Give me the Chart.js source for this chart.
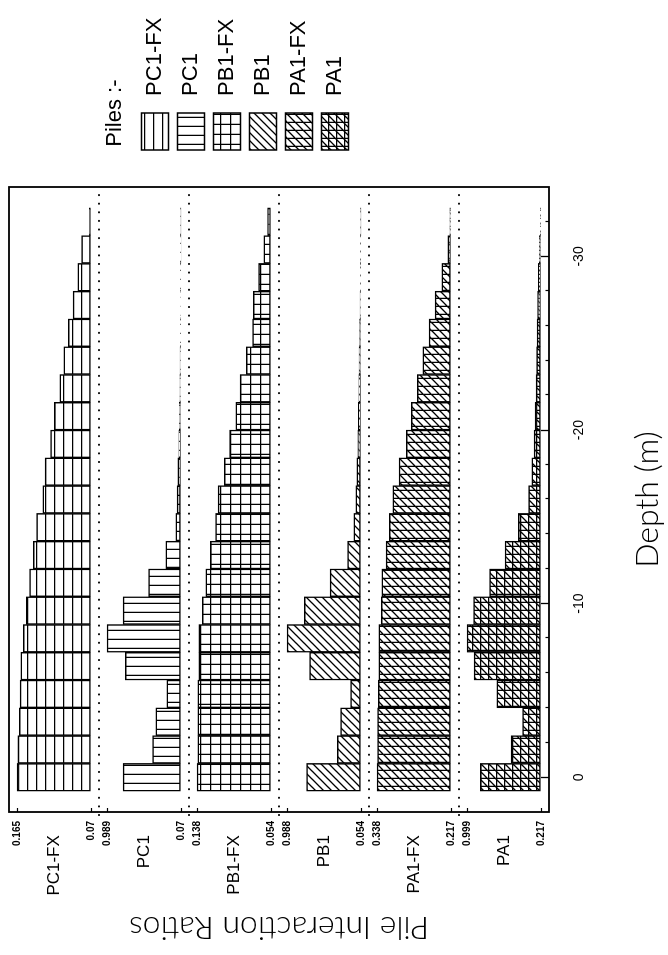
<!DOCTYPE html>
<html>
<head>
<meta charset="utf-8">
<script src="https://cdn.jsdelivr.net/npm/chart.js@4/dist/chart.umd.min.js"></script>
<style>
  html, body { margin: 0; padding: 0; background: #fff; width: 668px; height: 955px; overflow: hidden; }
  /* the figure is laid out landscape and turned a quarter turn to stand upright on the page */
  #sheet { position: absolute; left: 0; top: 0; width: 955px; height: 668px;
           transform-origin: 0 0; transform: translateY(955px) rotate(-90deg); }
  canvas { display: block; }
</style>
</head>
<body>
<div id="sheet"><canvas id="chart" width="955" height="668"></canvas></div>
<script>
// Depth of each pile segment (m)
const depths = [0, -1.6, -3.2, -4.8, -6.4, -8, -9.6, -11.2, -12.8, -14.4, -16,
                -17.6, -19.2, -20.8, -22.4, -24, -25.6, -27.2, -28.8, -30.4, -32];

const piles = ['PC1-FX', 'PC1', 'PB1-FX', 'PB1', 'PA1-FX', 'PA1'];

// Interaction ratio per segment, one list per pile
const pc1fx = [0.165, 0.164, 0.162, 0.161, 0.160, 0.157, 0.153, 0.149, 0.144, 0.140, 0.132,
               0.129, 0.122, 0.117, 0.110, 0.105, 0.099, 0.093, 0.087, 0.082, 0.072];
const pc1   = [0.788, 0.423, 0.384, 0.246, 0.762, 0.989, 0.788, 0.473, 0.259, 0.133, 0.120,
               0.108, 0.097, 0.091, 0.086, 0.082, 0.079, 0.076, 0.074, 0.072, 0.071];
const pb1fx = [0.138, 0.137, 0.137, 0.137, 0.136, 0.136, 0.132, 0.128, 0.123, 0.117, 0.114,
               0.107, 0.101, 0.094, 0.089, 0.082, 0.075, 0.074, 0.068, 0.062, 0.058];
const pb1   = [0.742, 0.352, 0.313, 0.184, 0.703, 0.988, 0.768, 0.443, 0.223, 0.145, 0.120,
               0.106, 0.095, 0.088, 0.082, 0.077, 0.072, 0.067, 0.062, 0.058, 0.055];
const pa1fx = [0.338, 0.337, 0.337, 0.336, 0.335, 0.335, 0.331, 0.330, 0.323, 0.318, 0.312,
               0.302, 0.290, 0.282, 0.272, 0.263, 0.253, 0.243, 0.232, 0.222, 0.219];
const pa1   = [0.858, 0.532, 0.412, 0.684, 0.923, 0.999, 0.930, 0.760, 0.597, 0.456, 0.347,
               0.315, 0.290, 0.280, 0.270, 0.265, 0.258, 0.252, 0.245, 0.235, 0.225];

// Range printed at the ends of each panel
const panelMaxLabels = ['0.165', '0.989', '0.138', '0.988', '0.338', '0.999'];
const panelMinLabels = ['0.07', '0.07', '0.054', '0.054', '0.217', '0.217'];

// Depth axis
const depthRange = [-34, 2];
const depthTicks = [0, -10, -20, -30];
const depthTickLabels = ['0', '-10', '-20', '-30'];
const depthMinorTicks = [-2, -4, -6, -8, -12, -14, -16, -18, -22, -24, -26, -28, -32];

const series = [pc1fx, pc1, pb1fx, pb1, pa1fx, pa1];

const SANS = "'Liberation Sans', Arial, Helvetica, sans-serif";
const LIGHT = "Lato, 'Open Sans', 'DejaVu Sans', sans-serif";

const canvas = document.getElementById('chart');
const ctx = canvas.getContext('2d');

// Hatch fills: h = rows, v = columns, d = forward diagonals
function makeHatch(kind, s) {
  const t = document.createElement('canvas');
  t.width = s; t.height = s;
  const g = t.getContext('2d');
  g.fillStyle = '#fff';
  g.fillRect(0, 0, s, s);
  g.strokeStyle = '#000';
  g.lineWidth = 1.3;
  g.beginPath();
  if (kind.includes('h')) { g.moveTo(0, 0.6); g.lineTo(s, 0.6); }
  if (kind.includes('v')) { g.moveTo(0.6, 0); g.lineTo(0.6, s); }
  if (kind.includes('d')) {
    g.moveTo(-1, s + 1); g.lineTo(s + 1, -1);
    g.moveTo(-1, 1); g.lineTo(1, -1);
    g.moveTo(s - 1, s + 1); g.lineTo(s + 1, s - 1);
  }
  g.stroke();
  return ctx.createPattern(t, 'repeat');
}
const hatches = [makeHatch('h', 9), makeHatch('v', 9), makeHatch('hv', 10),
                 makeHatch('d', 8), makeHatch('dv', 8), makeHatch('dhv', 8)];

const PANEL_PAD = 8 / 74;   // share of the panel range left free at each end

const scales = {
  x: {
    type: 'linear',
    position: 'bottom',
    min: depthRange[0],
    max: depthRange[1],
    reverse: true,
    offset: false,
    afterBuildTicks: s => { s.ticks = depthTicks.map(v => ({ value: v })); },
    ticks: {
      autoSkip: false, maxRotation: 0, minRotation: 0, padding: 30, color: '#000',
      font: { family: SANS, size: 14 },
      callback: (v, i) => depthTickLabels[i]
    },
    grid: { drawOnChartArea: false, offset: false, tickLength: -8, tickColor: '#000', tickWidth: 1.3 },
    border: { display: false },
    title: { display: true, text: 'Depth (m)', color: '#000',
             font: { family: LIGHT, size: 32, weight: 300 }, padding: { top: 0, bottom: 1 } },
    afterFit: s => { s.height = 119; s.paddingLeft = 0; s.paddingRight = 0; }
  },
  pad: {
    type: 'linear',
    position: 'right',
    weight: 0,
    ticks: { display: false },
    grid: { display: false },
    border: { display: false },
    afterFit: s => { s.width = 28; s.paddingTop = 0; s.paddingBottom = 0; }
  }
};

const datasets = [];
piles.forEach((name, k) => {
  const lo = parseFloat(panelMinLabels[k]);
  const hi = parseFloat(panelMaxLabels[k]);
  const pad = (hi - lo) * PANEL_PAD;
  const id = 'y' + k;
  const tickText = [panelMinLabels[k], name + '   ', panelMaxLabels[k]];
  scales[id] = {
    type: 'linear',
    position: 'left',
    stack: 'panels',
    stackWeight: 1,
    weight: 60 - k * 10,
    min: lo - pad,
    max: hi + pad,
    afterBuildTicks: s => { s.ticks = [{ value: lo }, { value: (lo + hi) / 2 }, { value: hi }]; },
    ticks: {
      autoSkip: false, padding: 13, color: '#000',
      callback: (v, i) => tickText[i],
      font: c => c.index === 1 ? { family: SANS, size: 17 } : { family: SANS, size: 10, weight: 'bold' }
    },
    grid: {
      drawOnChartArea: false, tickLength: -4, tickWidth: 1.2,
      tickColor: c => c.index === 1 ? 'rgba(0,0,0,0)' : '#000'
    },
    border: { display: false },
    afterFit: s => { s.width = 96.6; s.paddingTop = 0; s.paddingBottom = 0; }
  };
  datasets.push({
    label: name,
    data: depths.map((d, i) => ({ x: d, y: series[k][i] })),
    xAxisID: 'x',
    yAxisID: id,
    base: lo,
    grouped: false,
    barPercentage: 1,
    categoryPercentage: 1,
    backgroundColor: hatches[k],
    borderColor: '#000',
    borderWidth: 1.5,
    borderSkipped: false
  });
});

// Frame round the plot, dotted panel dividers and the short depth ticks
const framePlugin = {
  id: 'frame',
  afterDraw(chart) {
    const { ctx: c, chartArea: a } = chart;
    c.save();
    c.strokeStyle = '#000';
    c.lineWidth = 2.2;
    c.lineCap = 'round';
    c.setLineDash([0.01, 8.6]);
    for (let k = 0; k < piles.length - 1; k++) {
      const y = chart.scales['y' + k].bottom;
      c.beginPath();
      c.moveTo(a.left - 3, y);
      c.lineTo(a.right, y);
      c.stroke();
    }
    c.setLineDash([]);
    c.lineCap = 'butt';
    c.lineWidth = 1.2;
    const xs = chart.scales.x;
    depthMinorTicks.forEach(v => {
      const px = Math.round(xs.getPixelForValue(v)) + 0.5;
      c.beginPath();
      c.moveTo(px, a.bottom);
      c.lineTo(px, a.bottom - 3.5);
      c.stroke();
    });
    c.lineWidth = 1.8;
    c.strokeRect(a.left, a.top, a.right - a.left, a.bottom - a.top);
    c.restore();
  }
};

const options = {
  responsive: false,
  animation: false,
  events: [],
  devicePixelRatio: 1,
  layout: { padding: { top: 9, right: 0, bottom: 0, left: 0 } },
  scales,
  plugins: {
    tooltip: { enabled: false },
    title: {
      display: true, position: 'left', fullSize: false, text: 'Pile Interaction Ratios', color: '#000',
      font: { family: LIGHT, size: 32, weight: 300 }, padding: { top: 8, bottom: 0 }
    },
    legend: {
      position: 'right',
      align: 'start',
      maxWidth: 220,
      labels: {
        boxWidth: 37, boxHeight: 27, padding: 9, color: '#000',
        font: { family: SANS, size: 22 },
        generateLabels: chart => Chart.defaults.plugins.legend.labels.generateLabels(chart)
          .map(item => Object.assign(item, { text: ' ' + item.text }))
      },
      title: {
        display: true, text: '  Piles :-', position: 'start', color: '#000',
        font: { family: SANS, size: 22 }, padding: { top: 95, bottom: 2 }
      }
    }
  }
};

Chart.defaults.color = '#000';
const chart = new Chart(ctx, { type: 'bar', data: { datasets }, options, plugins: [framePlugin] });

// place the legend column a fixed distance from the plot
options.layout.padding.right = Math.max(0, chart.width - 796 - chart.legend.width);
chart.update('none');
</script>
</body>
</html>
